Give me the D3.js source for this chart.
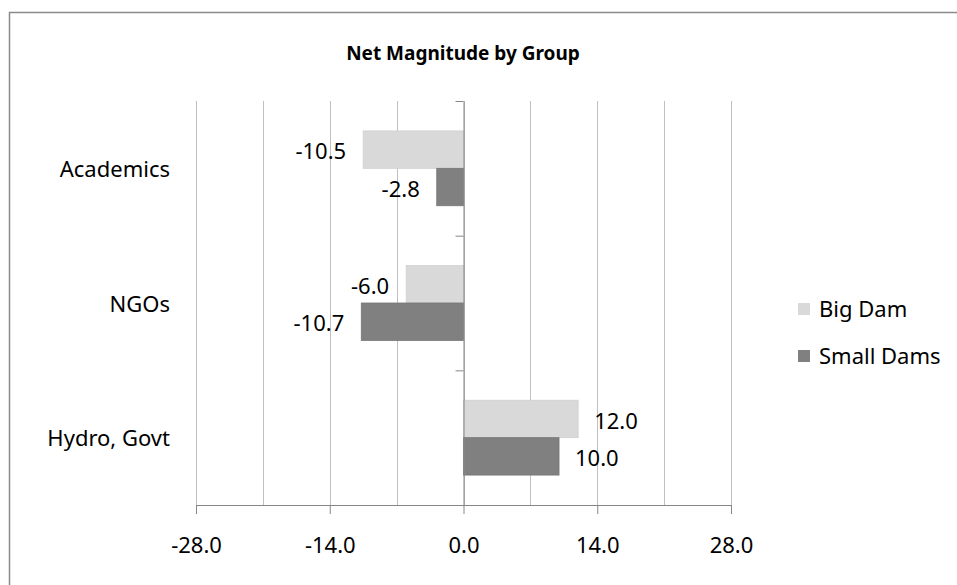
<!DOCTYPE html>
<html>
<head>
<meta charset="utf-8">
<script src="https://cdn.jsdelivr.net/npm/d3@7"></script>
<style>
  body { margin: 0; background: #fff; }
  text { font-family: "Noto Sans", sans-serif; fill: #000; }
</style>
</head>
<body>
<div class="chart"></div>
<script>
// data
const groups = ["Academics", "NGOs", "Hydro, Govt"];
const series = ["Big Dam", "Small Dams"];
const bigDam = [-10.5, -6.0, 12.0];
const smallDams = [-2.8, -10.7, 10.0];
const xTicks = [-28, -14, 0, 14, 28];
const gridTicks = [-28, -21, -14, -7, 0, 7, 14, 21, 28];
const colors = ["#d9d9d9", "#808080"];

const svgWidth = 957;
const svgHeight = 585;

const chartMargin = { top: 101, right: 226, bottom: 80, left: 196 };
const width = svgWidth - chartMargin.left - chartMargin.right;
const height = svgHeight - chartMargin.top - chartMargin.bottom;

// excel style numbers, plain hyphen for minus
const fmt = d => d3.format(".1f")(d).replace("\u2212", "-");

let svg = d3.select(".chart")
    .append("svg")
    .attr("width", svgWidth)
    .attr("height", svgHeight);

// outer frame
svg.append("rect")
    .attr("x", 9.5)
    .attr("y", 12.5)
    .attr("width", 960)
    .attr("height", 600)
    .attr("fill", "none")
    .attr("stroke", "#8a8a8a")
    .attr("stroke-width", 1.5);

svg.append("text")
    .attr("x", 463)
    .attr("y", 60)
    .attr("text-anchor", "middle")
    .attr("font-size", "19px")
    .attr("font-weight", "bold")
    .text("Net Magnitude by Group");

const chartGroup = svg.append("g")
    .attr("transform", `translate(${chartMargin.left}, ${chartMargin.top})`);

const x = d3.scaleLinear().domain([-28, 28]).range([0, width]);
const y = d3.scaleBand().domain(groups).range([0, height]);
const ySub = d3.scaleBand().domain(series).range([0, y.bandwidth()]).paddingOuter(0.8);

// gridlines
chartGroup.selectAll(".grid")
    .data(gridTicks)
    .enter()
    .append("line")
    .attr("x1", d => Math.round(x(d)) + 0.5)
    .attr("x2", d => Math.round(x(d)) + 0.5)
    .attr("y1", 0)
    .attr("y2", height)
    .attr("stroke", "#c0c0c0")
    .attr("stroke-width", 1);

// bars
const rows = groups.map((g, i) => ({ group: g, values: [bigDam[i], smallDams[i]] }));

const rowG = chartGroup.selectAll(".row")
    .data(rows)
    .enter()
    .append("g")
    .attr("transform", d => `translate(0, ${y(d.group)})`);

rowG.selectAll("rect")
    .data(d => d.values.map((v, j) => ({ s: series[j], v: v, j: j })))
    .enter()
    .append("rect")
    .attr("x", d => x(Math.min(0, d.v)))
    .attr("y", d => ySub(d.s))
    .attr("width", d => Math.abs(x(d.v) - x(0)))
    .attr("height", ySub.bandwidth())
    .attr("fill", d => colors[d.j])
    .attr("stroke", d => d.j === 1 ? "#767676" : "#d0d0d0")
    .attr("stroke-width", 0.8);

rowG.selectAll(".lbl")
    .data(d => d.values.map((v, j) => ({ s: series[j], v: v, j: j })))
    .enter()
    .append("text")
    .attr("x", d => d.v < 0 ? x(d.v) - 17 : x(d.v) + 16)
    .attr("y", d => ySub(d.s) + ySub.bandwidth() / 2 + 2)
    .attr("dy", "0.35em")
    .attr("text-anchor", d => d.v < 0 ? "end" : "start")
    .attr("font-size", "22px")
    .text(d => fmt(d.v));

// x axis
const xAxis = d3.axisBottom(x).tickValues(xTicks).tickFormat(fmt).tickSize(9).tickSizeOuter(0);
const xg = chartGroup.append("g")
    .attr("transform", `translate(0, ${height})`)
    .call(xAxis);
xg.select(".domain").attr("stroke", "#868686");
xg.selectAll(".tick line").attr("stroke", "#868686");
xg.selectAll(".tick text")
    .attr("font-size", "22px")
    .attr("font-family", "Noto Sans, sans-serif")
    .attr("fill", "#000")
    .attr("y", 48)
    .attr("dy", null);

// y axis at zero
const yAxis = d3.axisLeft(y).tickValues([]).tickSize(0);
const yg = chartGroup.append("g")
    .attr("transform", `translate(${x(0)}, 0)`)
    .call(yAxis);
yg.select(".domain").attr("stroke", "#868686");
yg.selectAll(".yt")
    .data(groups)
    .enter()
    .append("line")
    .attr("class", "yt")
    .attr("x1", -8)
    .attr("x2", 0)
    .attr("y1", d => y(d) + 0.5)
    .attr("y2", d => y(d) + 0.5)
    .attr("stroke", "#868686");

// category labels
chartGroup.selectAll(".cat")
    .data(groups)
    .enter()
    .append("text")
    .attr("x", -26)
    .attr("y", d => y(d) + y.bandwidth() / 2 + 1)
    .attr("dy", "0.35em")
    .attr("text-anchor", "end")
    .attr("font-size", "22px")
    .text(d => d);

// legend
const legend = svg.selectAll(".legend")
    .data(series)
    .enter()
    .append("g")
    .attr("transform", (d, i) => `translate(798, ${303 + i * 47})`);

legend.append("rect")
    .attr("width", 12)
    .attr("height", 12)
    .attr("fill", (d, i) => colors[i]);

legend.append("text")
    .attr("x", 21)
    .attr("y", 6)
    .attr("dy", "0.35em")
    .attr("font-size", "22px")
    .text(d => d);
</script>
</body>
</html>
